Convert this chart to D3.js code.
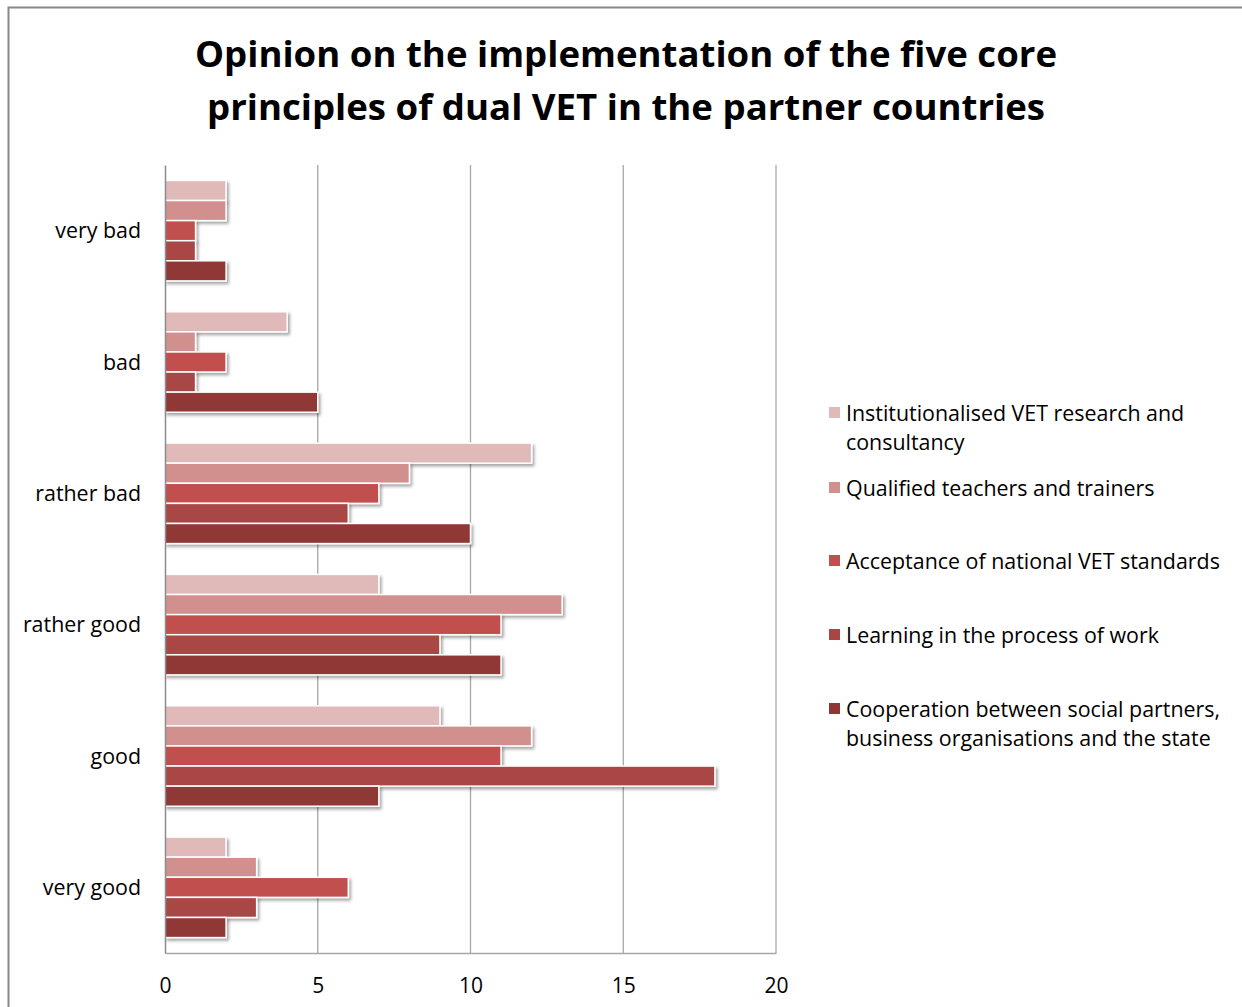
<!DOCTYPE html>
<html>
<head>
<meta charset="utf-8">
<script src="https://cdn.jsdelivr.net/npm/d3@7"></script>
<style>
  body { margin: 0; background: #fff; }
  text { font-family: "Open Sans", "Noto Sans", sans-serif; fill: #000; }
</style>
</head>
<body>
<div id="chart"></div>
<script>
// categories top to bottom
var categories = ["very bad", "bad", "rather bad", "rather good", "good", "very good"];
var seriesNames = [
  "Institutionalised VET research and consultancy",
  "Qualified teachers and trainers",
  "Acceptance of national VET standards",
  "Learning in the process of work",
  "Cooperation between social partners, business organisations and the state"
];
var legendLines = [
  ["Institutionalised VET research and", "consultancy"],
  ["Qualified teachers and trainers"],
  ["Acceptance of national VET standards"],
  ["Learning in the process of work"],
  ["Cooperation between social partners,", "business organisations and the state"]
];
var institutionalised = [2, 4, 12, 7, 9, 2];
var qualified = [2, 1, 8, 13, 12, 3];
var acceptance = [1, 2, 7, 11, 11, 6];
var learning = [1, 1, 6, 9, 18, 3];
var cooperation = [2, 5, 10, 11, 7, 2];
var xTicks = [0, 5, 10, 15, 20];
var colors = ["#e0b9b9", "#d18f8e", "#c0504d", "#a84644", "#8f3735"];

var allSeries = [institutionalised, qualified, acceptance, learning, cooperation];

var W = 1242, H = 1007;
var margin = {top: 165, left: 165, right: W - 776, bottom: H - 953};
var width = W - margin.left - margin.right,
    height = H - margin.top - margin.bottom;

var svg = d3.select("#chart").append("svg")
    .attr("width", W)
    .attr("height", H);

// drop shadow for bars
var defs = svg.append("defs");
var f = defs.append("filter").attr("id", "shadow")
    .attr("x", "-10%").attr("y", "-30%").attr("width", "130%").attr("height", "180%");
f.append("feDropShadow").attr("dx", 2).attr("dy", 2.5)
    .attr("stdDeviation", 1.8).attr("flood-color", "#000").attr("flood-opacity", 0.35);

// outer frame
svg.append("rect")
    .attr("x", 8.5).attr("y", 7.5)
    .attr("width", W + 20).attr("height", H + 20)
    .attr("fill", "none").attr("stroke", "#888").attr("stroke-width", 2);

// title
var title = svg.append("text")
    .attr("text-anchor", "middle")
    .style("font-size", "36.6px")
    .style("font-weight", "bold");
title.append("tspan").attr("x", 626).attr("y", 67)
    .text("Opinion on the implementation of the five core");
title.append("tspan").attr("x", 626).attr("y", 120)
    .text("principles of dual VET in the partner countries");

var g = svg.append("g")
    .attr("transform", "translate(" + margin.left + "," + margin.top + ")");

var x = d3.scaleLinear().domain([0, 20]).range([0, width]);
var y0 = d3.scaleBand().domain(categories).range([0, height])
    .paddingInner(0.235).paddingOuter(0.1175);
var y1 = d3.scaleBand().domain(d3.range(seriesNames.length))
    .range([0, y0.bandwidth()]);

// gridlines
g.selectAll(".grid")
    .data(xTicks.slice(1))
  .enter().append("line")
    .attr("x1", function(d) { return x(d); })
    .attr("x2", function(d) { return x(d); })
    .attr("y1", 0).attr("y2", height)
    .attr("stroke", "#a6a6a6").attr("stroke-width", 1.3);

// bars
var groups = g.selectAll(".cat")
    .data(categories)
  .enter().append("g")
    .attr("transform", function(d) { return "translate(0," + y0(d) + ")"; });

groups.selectAll("rect")
    .data(function(d, i) {
      return allSeries.map(function(s, k) { return {k: k, v: s[i]}; });
    })
  .enter().append("rect")
    .attr("x", 0)
    .attr("y", function(d) { return y1(d.k); })
    .attr("width", function(d) { return x(d.v); })
    .attr("height", y1.bandwidth())
    .attr("fill", function(d) { return colors[d.k]; })
    .attr("stroke", "#fff")
    .attr("stroke-width", 1.5)
    .attr("filter", "url(#shadow)");

// x axis
var xAxis = g.append("g")
    .attr("transform", "translate(0," + height + ")")
    .call(d3.axisBottom(x).tickValues(xTicks).tickSize(0).tickPadding(25));
xAxis.select(".domain").attr("stroke", "#a6a6a6").attr("stroke-width", 1.5);
xAxis.selectAll("text").style("font-size", "21px");

// y axis
var yAxis = g.append("g")
    .call(d3.axisLeft(y0).tickSize(0).tickPadding(24));
yAxis.select(".domain").attr("stroke", "#8c8c8c").attr("stroke-width", 1.5);
yAxis.selectAll("text").style("font-size", "21.4px").attr("dy", "0.35em");

// legend
var legendY = [413, 488, 561, 635, 709];
var legend = svg.selectAll(".legend")
    .data(legendLines)
  .enter().append("g")
    .attr("transform", function(d, i) { return "translate(829," + legendY[i] + ")"; });

legend.append("rect")
    .attr("x", 0).attr("y", -6)
    .attr("width", 11).attr("height", 11)
    .attr("fill", function(d, i) { return colors[i]; });

legend.each(function(lines) {
  var t = d3.select(this).append("text")
      .style("font-size", "21.4px");
  lines.forEach(function(line, j) {
    t.append("tspan").attr("x", 17).attr("y", j * 30).attr("dy", "0.35em").text(line);
  });
});
</script>
</body>
</html>
